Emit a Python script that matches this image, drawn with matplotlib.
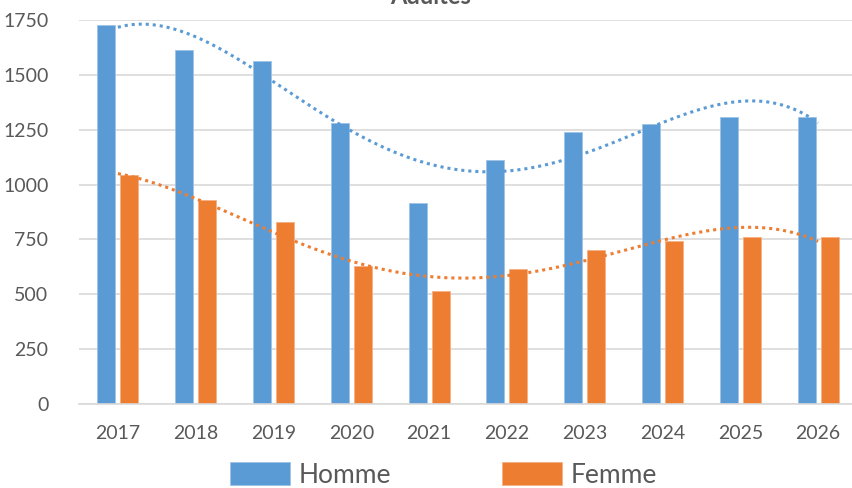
import matplotlib.pyplot as plt
import numpy as np

annees = ["2017", "2018", "2019", "2020", "2021", "2022", "2023", "2024", "2025", "2026"]
homme = [1725, 1615, 1565, 1280, 915, 1110, 1240, 1275, 1310, 1310]
femme = [1045, 930, 830, 630, 515, 615, 700, 745, 760, 760]

bleu = "#5B9BD5"
orange = "#ED7D31"
gris = "#595959"

plt.rcParams['font.family'] = ['Lato', 'DejaVu Sans']

fig = plt.figure(figsize=(8.52, 4.88), dpi=100)
ax = fig.add_axes([79 / 852, 84 / 488, 778 / 852, 384 / 488])

x = np.arange(len(annees))
w = 0.23
off = 0.148
ax.bar(x - off, homme, w, color=bleu, edgecolor="#9DC3E6", linewidth=0.6, label="Homme", zorder=2)
ax.bar(x + off, femme, w, color=orange, edgecolor="#F4B183", linewidth=0.6, label="Femme", zorder=2)

# courbes de tendance polynomiales
xs = np.linspace(0, len(annees) - 1, 200)
for vals, c in [(homme, bleu), (femme, orange)]:
    p = np.polyfit(x, vals, 4)
    ax.plot(xs, np.polyval(p, xs), color=c, linestyle=(0, (1, 1.3)), linewidth=2.2, zorder=3)

ax.set_xlim(-0.5, len(annees) - 0.5)
ax.set_ylim(0, 1750)
ax.set_yticks(range(0, 1751, 250))
ax.set_xticks(x)
ax.set_xticklabels(annees)
ax.grid(axis="y", color="#D9D9D9", linewidth=1.2, zorder=0)
ax.set_axisbelow(True)
for s in ["top", "right", "left"]:
    ax.spines[s].set_visible(False)
ax.spines["bottom"].set_color("#D9D9D9")
ax.spines["bottom"].set_linewidth(1.2)
ax.tick_params(length=0, colors=gris, labelsize=14)
ax.tick_params(axis="y", pad=22)
ax.tick_params(axis="x", pad=15)

fig.text(0.505, 1.008, "Adultes", ha="center", va="center", fontsize=17,
         fontweight="bold", color=gris)

fig.legend(loc="center", bbox_to_anchor=(0.52, 13 / 488), ncol=2, frameon=False,
           fontsize=19, handlelength=2.3, handleheight=0.95, columnspacing=4.2,
           handletextpad=0.3, labelcolor=gris)

plt.savefig("out.png", dpi=100)
